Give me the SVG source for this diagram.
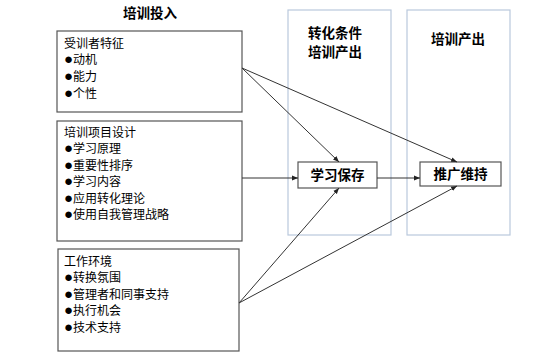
<svg xmlns="http://www.w3.org/2000/svg" width="560" height="363" viewBox="0 0 560 363">
<style>
text{font-family:"Liberation Sans","Noto Sans CJK SC",sans-serif;fill:#000}
.t{font-size:12px}
.b{font-size:15px}
.h{font-size:13.5px;font-weight:bold}
.box{fill:#fff;stroke:#555;stroke-width:1.2}
.panel{fill:none;stroke:#b9c9dd;stroke-width:1.2}
.c{stroke:#333;stroke-width:1;fill:none;marker-end:url(#ah)}
</style>
<defs>
<marker id="ah" viewBox="0 0 10 10" refX="10" refY="5" markerWidth="6" markerHeight="6" orient="auto" markerUnits="userSpaceOnUse">
<path d="M0,1 L10,5 L0,9 z" fill="#222"/>
</marker>
</defs>
<rect width="560" height="363" fill="#fff"/>
<g id="panel-transfer"><rect class="panel" x="288" y="10" width="103" height="225"/>
<text class="h" x="335" y="38" text-anchor="middle">转化条件</text>
<text class="h" x="335" y="57" text-anchor="middle">培训产出</text></g>
<g id="panel-output"><rect class="panel" x="407" y="10" width="103" height="225"/>
<text class="h" x="458" y="44" text-anchor="middle">培训产出</text></g>
<g id="title-input"><text class="h" x="150" y="18" text-anchor="middle">培训投入</text></g>
<g id="trainee"><rect class="box" x="57" y="31" width="185" height="81"/>
<text class="t" x="64" y="48">受训者特征</text>
<text class="t" x="64" y="64"><tspan class="b">●</tspan>动机</text>
<text class="t" x="64" y="81"><tspan class="b">●</tspan>能力</text>
<text class="t" x="64" y="98"><tspan class="b">●</tspan>个性</text></g>
<g id="design"><rect class="box" x="57" y="121" width="185" height="120"/>
<text class="t" x="64" y="137">培训项目设计</text>
<text class="t" x="64" y="153"><tspan class="b">●</tspan>学习原理</text>
<text class="t" x="64" y="170"><tspan class="b">●</tspan>重要性排序</text>
<text class="t" x="64" y="186"><tspan class="b">●</tspan>学习内容</text>
<text class="t" x="64" y="203"><tspan class="b">●</tspan>应用转化理论</text>
<text class="t" x="64" y="219"><tspan class="b">●</tspan>使用自我管理战略</text></g>
<g id="environment"><rect class="box" x="58" y="249" width="181" height="102"/>
<text class="t" x="64" y="266">工作环境</text>
<text class="t" x="64" y="282"><tspan class="b">●</tspan>转换氛围</text>
<text class="t" x="64" y="299"><tspan class="b">●</tspan>管理者和同事支持</text>
<text class="t" x="64" y="315"><tspan class="b">●</tspan>执行机会</text>
<text class="t" x="64" y="332"><tspan class="b">●</tspan>技术支持</text></g>
<g id="retention"><rect class="box" x="298" y="162" width="79" height="26"/>
<text class="h" x="337.5" y="180" text-anchor="middle">学习保存</text></g>
<g id="maintenance"><rect class="box" x="420" y="162" width="81" height="24"/>
<text class="h" x="460.5" y="179" text-anchor="middle">推广维持</text></g>
<g id="connectors">
<line class="c" x1="242" y1="68" x2="339" y2="162"/>
<line class="c" x1="242" y1="68" x2="457" y2="162"/>
<line class="c" x1="242" y1="178" x2="298" y2="178"/>
<line class="c" x1="377" y1="178" x2="420" y2="178"/>
<line class="c" x1="239" y1="303" x2="339" y2="188"/>
<line class="c" x1="239" y1="303" x2="457" y2="186"/>
</g>
</svg>
